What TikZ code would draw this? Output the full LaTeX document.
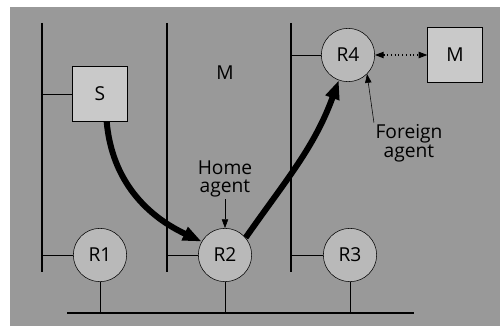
\documentclass[tikz,border=0pt]{standalone}
\usepackage{fontspec}
\setmainfont{Open Sans}
\usepackage{tikz}
\usetikzlibrary{arrows.meta}
\usetikzlibrary{positioning}

\begin{document}
\begin{tikzpicture}[x=0.75pt,y=0.75pt]
  \tikzset{router/.style = {shape=circle,draw,minimum size=40pt,inner sep=1pt, fill=gray!55, font=\Large}}
  \tikzset{host/.style = {shape=rectangle,draw,minimum size=41pt,inner sep=1pt, fill=gray!42, font=\Large}}
  \tikzset{lan/.style = {line width=1pt}}
  \tikzset{tunnel/.style = {line width=4.5pt,-tipA}}
  \tikzset{%
  tipA/.tip={Triangle[angle=40:15pt]},
  tipB/.tip={Triangle[angle=40:7pt]},
}
  \useasboundingbox (0,0) rectangle (502,329);
  \fill[gray!80] (10,3) rectangle (500,322);

	% the three networks
	\coordinate (L1t) at (42,306);
	\coordinate (L1b) at (42,57);
	\coordinate (L2t) at (167,306);
	\coordinate (L2b) at (167,57);
	\coordinate (L3t) at (291,306);
	\coordinate (L3b) at (291,57);
	\coordinate (Bl) at (67,16);
	\coordinate (Br) at (414,16);

	\node[host] (S) at (100,235) {S};
	\node[font=\Large] (Mh) at (225,256) {M};
	\node[router] (R4) at (348,274) {R4};
	\node[host] (M) at (455,274) {M};

	\node[router] (R1) at (100,74) {R1};
	\node[router] (R2) at (225,74) {R2};
	\node[router] (R3) at (350,74) {R3};

	\node[align=center, font=\Large, inner sep=1pt] (HA) at (225,150) {Home\\[-4pt]agent};
	\node[align=center, font=\Large, inner sep=1pt] (FA) at (409,186) {Foreign\\[-4pt]agent};

	\foreach \from/\to in {L1t/L1b, L2t/L2b, L3t/L3b, Bl/Br}
	\draw[lan] (\from) -- (\to);

	\draw (L1t |- S) -- (S.west);
	\draw (L3t |- R4) -- (R4.west);
	\foreach \r/\l in {R1/L1t, R2/L2t, R3/L3t}
	{
	\draw (\l |- \r) -- (\r.west);
	\draw (\r.south) -- (\r |- Bl);
	}

	\draw[dotted, thick, tipB-tipB] (R4.east) -- (M.west);
	\draw[-tipB] (HA.south) -- (R2.north);
	\draw[-tipB] (FA.north west) -- (R4.south east);

	\draw[tunnel] ([xshift=5pt]S.south) to[out=-85,in=155] (R2.150);
	\draw[tunnel] (R2.40) to[out=55,in=-110] (R4.250);

\end{tikzpicture}
\end{document}
